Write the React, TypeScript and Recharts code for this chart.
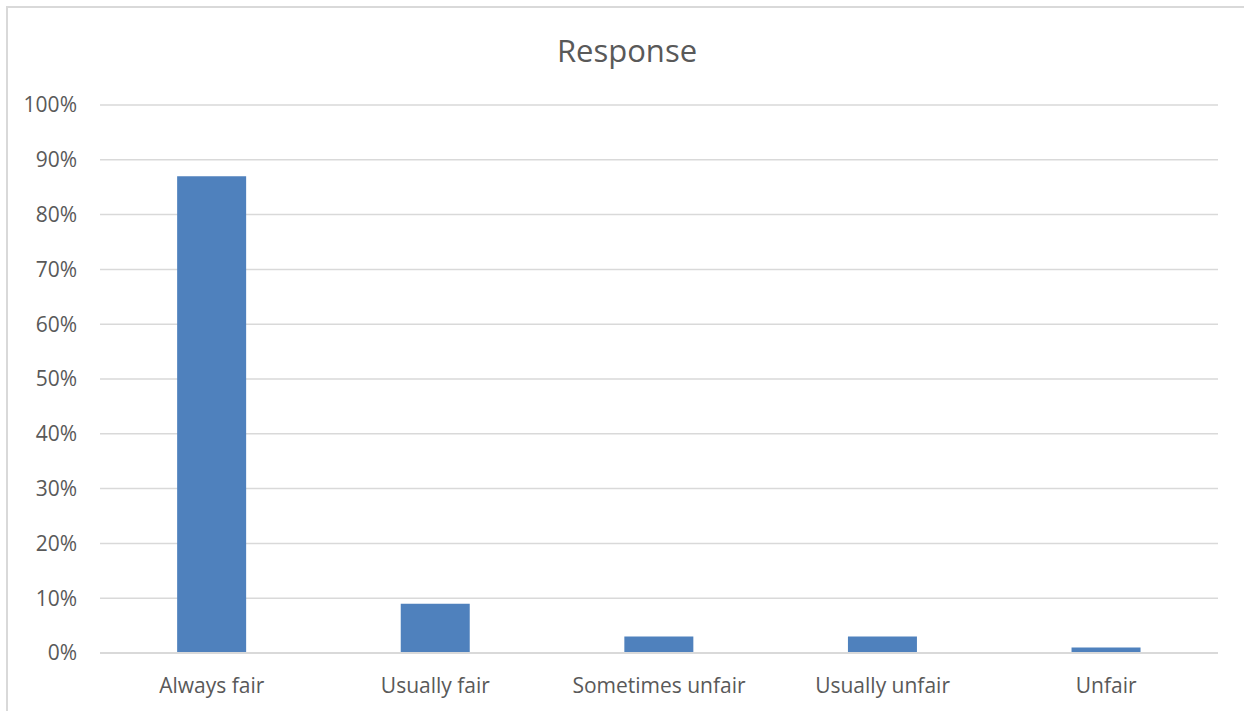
import React from "react";
import { BarChart, Bar, XAxis, YAxis, CartesianGrid } from "recharts";

const categories = ["Always fair", "Usually fair", "Sometimes unfair", "Usually unfair", "Unfair"];
const responseValues = [0.87, 0.09, 0.03, 0.03, 0.01];
const yTicks = [0, 0.1, 0.2, 0.3, 0.4, 0.5, 0.6, 0.7, 0.8, 0.9, 1.0];

const data = categories.map((name, i) => ({ name, value: responseValues[i] }));

const FONT = "'Open Sans', 'Noto Sans', sans-serif";
const TEXT = "#595959";

export default function App() {
  return (
    <div style={{ position: "absolute", left: 0, top: 0, width: 1244, height: 711, overflow: "hidden", background: "#fff" }}>
      <div
        style={{
          position: "absolute",
          left: 6,
          top: 6,
          width: 1400,
          height: 900,
          border: "2px solid #d9d9d9",
          boxSizing: "border-box",
        }}
      />
      <div
        style={{
          position: "absolute",
          left: 0,
          width: 1254,
          top: 29,
          textAlign: "center",
          fontFamily: FONT,
          fontSize: 31,
          color: TEXT,
          lineHeight: "42px",
        }}
      >
        Response
      </div>
      <div style={{ position: "absolute", left: 0, top: 0 }}>
        <BarChart
          width={1244}
          height={711}
          data={data}
          margin={{ top: 105, right: 26, bottom: 0, left: 40 }}
          barCategoryGap="34.5%"
        >
          <CartesianGrid vertical={false} stroke="#d9d9d9" strokeWidth={1.5} />
          <XAxis
            dataKey="name"
            axisLine={{ stroke: "#d9d9d9", strokeWidth: 2 }}
            tickLine={false}
            tickSize={0}
            tickMargin={25}
            height={58}
            interval={0}
            tick={{ fill: TEXT, fontSize: 21, fontFamily: FONT }}
          />
          <YAxis
            width={60}
            domain={[0, 1]}
            ticks={yTicks}
            interval={0}
            axisLine={false}
            tickLine={false}
            tickSize={0}
            tickMargin={23}
            tickFormatter={(v: number) => `${Math.round(v * 100)}%`}
            tick={{ fill: TEXT, fontSize: 21, fontFamily: FONT }}
          />
          <Bar dataKey="value" fill="#4f81bd" isAnimationActive={false} />
        </BarChart>
      </div>
    </div>
  );
}
